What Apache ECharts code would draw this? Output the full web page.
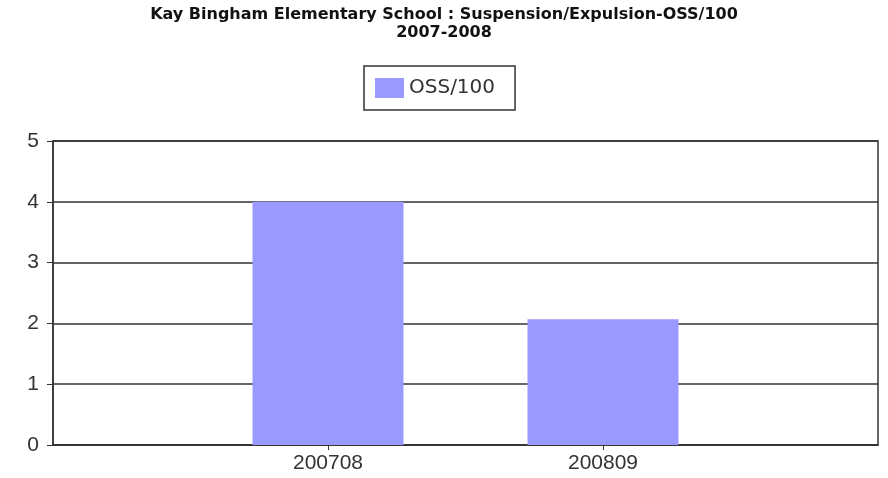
<!DOCTYPE html>
<html><head><meta charset="utf-8">
<script src="https://cdn.jsdelivr.net/npm/echarts@6/dist/echarts.min.js"></script>
<style>html,body{margin:0;padding:0;background:#fff}#c{width:888px;height:478px}</style>
</head><body><div id="c"></div>
<script>
const titleLines = ['Kay Bingham Elementary School : Suspension/Expulsion-OSS/100', '2007-2008'];
const categories = ['', '200708', '200809', ''];
const seriesName = 'OSS/100';
const values = ['-', 4.0, 2.07, '-'];
const yTicks = [0, 1, 2, 3, 4, 5];

const chart = echarts.init(document.getElementById('c'), null, {renderer: 'canvas'});
chart.setOption({
  animation: false,
  title: {
    text: titleLines.join('\n'),
    left: 'center', top: 1,
    textStyle: {fontFamily: 'DejaVu Sans', fontWeight: 'bold', fontSize: 16, color: '#111', lineHeight: 18}
  },
  legend: {
    data: [seriesName], top: 66, left: 364,
    borderColor: '#333', borderWidth: 1.5, padding: [12, 20, 12, 11],
    itemWidth: 29, itemHeight: 20, itemGap: 10,
    textStyle: {fontFamily: 'DejaVu Sans', fontSize: 20, color: '#333'},
    icon: 'rect'
  },
  grid: {left: 53, right: 10, top: 141, bottom: 33, show: true, borderColor: '#333', borderWidth: 1.5, containLabel: false},
  xAxis: {
    type: 'category', data: categories, boundaryGap: false,
    axisLine: {lineStyle: {color: '#333', width: 1.5}},
    axisTick: {show: true, length: 5, lineStyle: {color: '#333'}, interval: (i, v) => v !== ''},
    axisLabel: {fontFamily: 'Liberation Sans', fontSize: 21, color: '#333', margin: 8, interval: 0},
    splitLine: {show: false}
  },
  yAxis: {
    type: 'value', min: yTicks[0], max: yTicks[yTicks.length - 1], interval: 1,
    axisLine: {show: true, lineStyle: {color: '#333', width: 1.5}},
    axisTick: {show: true, length: 6, lineStyle: {color: '#333'}},
    axisLabel: {fontFamily: 'Liberation Sans', fontSize: 21, color: '#333', margin: 14},
    splitLine: {lineStyle: {color: '#333', width: 1.5}}
  },
  series: [{
    name: seriesName, type: 'bar', data: values, barWidth: 151,
    itemStyle: {color: '#9999ff'}, z: 3
  }]
});
</script></body></html>
